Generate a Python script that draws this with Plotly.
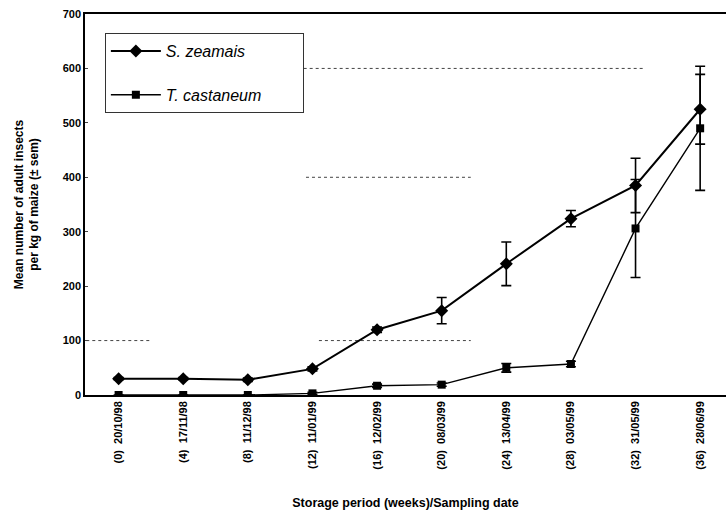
import plotly.graph_objects as go

# Sampling dates (storage weeks in brackets)
dates = ["(0)  20/10/98", "(4)  17/11/98", "(8)  11/12/98", "(12)  11/01/99",
         "(16)  12/02/99", "(20)  08/03/99", "(24)  13/04/99", "(28)  03/05/99",
         "(32)  31/05/99", "(36)  28/06/99"]

# Mean adult insects per kg of maize and standard errors
zeamais_mean = [30, 30, 28, 48, 120, 155, 241, 324, 385, 525]
zeamais_sem = [2, 2, 3, 4, 5, 24, 40, 15, 50, 64]
castaneum_mean = [0, 0, 0, 3, 17, 19, 50, 57, 306, 490]
castaneum_sem = [0, 0, 0, 2, 3, 3, 8, 5, 90, 114]

y_ticks = [0, 100, 200, 300, 400, 500, 600, 700]

font_main = "Liberation Sans, Arial, sans-serif"
pad = "\u00a0" * 8  # extra room on the right of the legend box

fig = go.Figure()

fig.add_trace(go.Scatter(
    x=list(range(len(dates))), y=zeamais_mean,
    mode="lines+markers", name="S. zeamais", legendgroup="a",
    line=dict(color="black", width=2),
    marker=dict(symbol="diamond", size=10, color="black"),
    error_y=dict(type="data", array=zeamais_sem, visible=True,
                 color="black", thickness=1.6, width=5),
))

fig.add_trace(go.Scatter(
    x=list(range(len(dates))), y=castaneum_mean,
    mode="lines+markers", name="T. castaneum" + pad, legendgroup="b",
    line=dict(color="black", width=1.4),
    marker=dict(symbol="square", size=8, color="black"),
    error_y=dict(type="data", array=castaneum_sem, visible=True,
                 color="black", thickness=1.6, width=5),
))

# faint dotted reference lines
for y0, xa, xb in [(600, -0.2, 8.15), (100, -0.5, 0.5), (100, 3.1, 5.45), (400, 2.9, 5.45)]:
    fig.add_shape(type="line", xref="x", yref="y", x0=xa, x1=xb, y0=y0, y1=y0,
                  line=dict(color="#444", width=1, dash="dot"), layer="below")

fig.update_layout(
    width=726, height=520,
    margin=dict(l=85, r=0, t=14, b=125),
    paper_bgcolor="white", plot_bgcolor="white",
    font=dict(family=font_main, color="black"),
    showlegend=True,
    legend=dict(
        x=0.031, y=0.95, xanchor="left", yanchor="top",
        bgcolor="white", bordercolor="#333", borderwidth=1,
        font=dict(size=16, family=font_main, style="italic"),
        tracegroupgap=20, itemwidth=50,
    ),
    xaxis=dict(
        range=[-0.52, 9.4],
        tickmode="array", tickvals=list(range(len(dates))), ticktext=dates,
        tickangle=-90, tickfont=dict(size=11, family=font_main, weight="bold"),
        showline=True, linecolor="black", linewidth=1.5, mirror=True,
        showgrid=False, zeroline=False, ticks="",
        title=dict(text="<b>Storage period (weeks)/Sampling date</b>",
                   font=dict(size=12.5), standoff=30),
    ),
    yaxis=dict(
        range=[0, 700],
        tickmode="array", tickvals=y_ticks,
        tickfont=dict(size=11, family=font_main, weight="bold"),
        showline=True, linecolor="black", linewidth=1.5,
        showgrid=False, zeroline=False, ticks="inside", ticklen=3,
        title=dict(text="<b>Mean number of adult insects<br>per kg of maize (± sem)</b>",
                   font=dict(size=12), standoff=21),
    ),
)

fig.write_html("out.html")
